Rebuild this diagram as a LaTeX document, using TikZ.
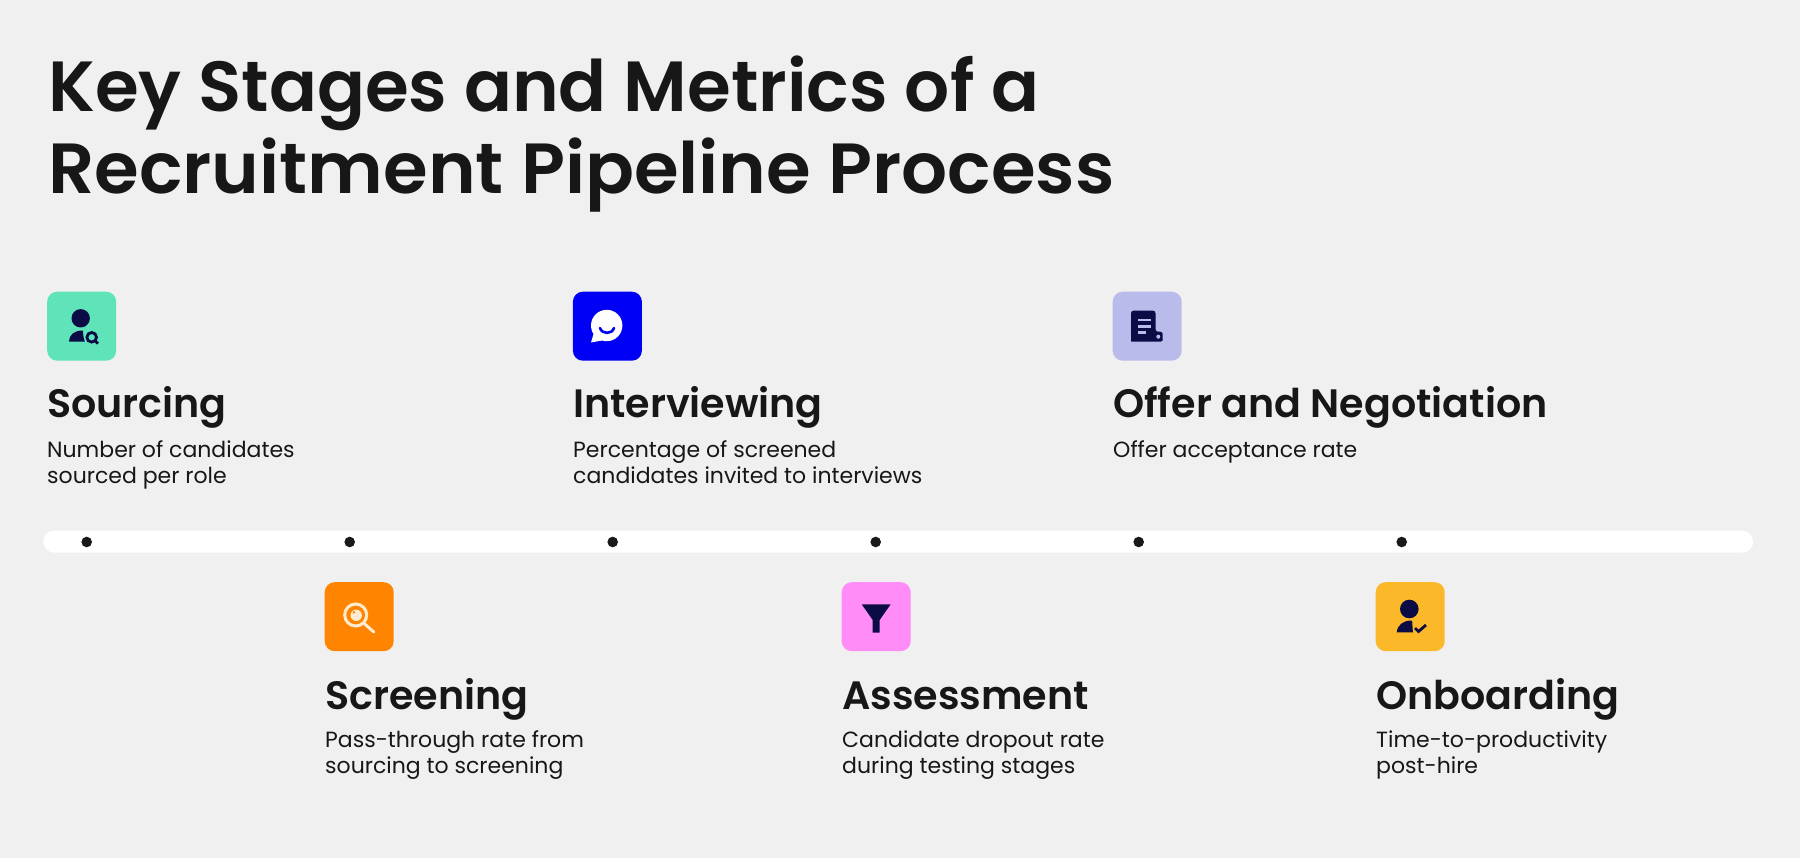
\documentclass[tikz,border=0pt]{standalone}
\usepackage{fontspec}
\setmainfont{Poppins}[BoldFont={Poppins SemiBold}]
\definecolor{bgc}{HTML}{F0F0F0}
\definecolor{ink}{HTML}{171717}
\definecolor{navy}{HTML}{0B0B45}
\definecolor{mint}{HTML}{5FE3B8}
\definecolor{blueb}{HTML}{0000F5}
\definecolor{lav}{HTML}{B9BCEB}
\definecolor{orangeb}{HTML}{FF8500}
\definecolor{cream}{HTML}{FFEBCF}
\definecolor{pinkb}{HTML}{FF8CF7}
\definecolor{yellowb}{HTML}{FBB829}
\tikzset{
  x=1pt,y=-1pt,
  titletext/.style={anchor=base west,inner sep=0pt,text=ink,font=\fontsize{71}{71}\selectfont\bfseries},
  headtext/.style={anchor=base west,inner sep=0pt,text=ink,font=\fontsize{39.6}{39.6}\selectfont\bfseries},
  desctext/.style={anchor=base west,inner sep=0pt,text=ink,font=\fontsize{22}{22}\selectfont},
  iconbox/.style={anchor=north west,inner sep=0pt,minimum size=69pt,rounded corners=10pt},
  dot/.style={circle,fill=black!90,inner sep=0pt,minimum size=10.6pt},
}
\begin{document}
\begin{tikzpicture}
\useasboundingbox (0,0) rectangle (1800,858);
\fill[bgc] (0,0) rectangle (1800,858);
% titles
\node[titletext] (t1) at (48,112) {\scalebox{0.997}[1]{Key Stages and Metrics of a}};
\node[titletext] (t2) at (48,194) {\scalebox{1.018}[1]{Recruitment Pipeline Process}};
% bar
\node[anchor=west,inner sep=0pt,minimum width=1710pt,minimum height=22pt,rounded corners=11pt,fill=white] (bar) at (43,541.7) {};
\foreach \n/\x in {a/86.7,b/349.7,c/612.7,d/875.7,e/1138.7,f/1401.7}
  \node[dot] (dot\n) at (\x,542) {};
% icon boxes
\node[iconbox,fill=mint] (ic1) at (47,291.5) {};
\node[iconbox,fill=blueb] (ic2) at (572.7,291.5) {};
\node[iconbox,fill=lav] (ic3) at (1112.5,291.5) {};
\node[iconbox,fill=orangeb] (ic4) at (324.5,582) {};
\node[iconbox,fill=pinkb] (ic5) at (841.5,582) {};
\node[iconbox,fill=yellowb] (ic6) at (1375.5,582) {};
% icon 1
\fill[navy] (80.7,318.3) circle[radius=9.2];
\fill[navy] (69,341.7) .. controls (69,335) and (74,330.5) .. (82.7,330.5) .. controls (83.5,334) and (83,338) .. (85,341.7) -- cycle;
\draw[navy,line width=2.8pt] (91.7,337.3) circle[radius=4.8];
\draw[navy,line width=2.8pt] (95,340.8) -- (98,343.6);
% icon 2
\fill[white] (606.7,325.5) circle[radius=15.7];
\fill[white] (594,332.5) -- (591,342.5) -- (602,340.5) -- cycle;
\draw[blueb,line width=2.6pt,line cap=round] (600,328) .. controls (602,334.5) and (612,334.5) .. (614,328);
% icon 3
\fill[navy,rounded corners=2.5pt] (1131,310.7) -- (1155.5,310.7) -- (1155.5,331.7) -- (1162.7,331.7) -- (1162.7,338) .. controls (1162.7,340.5) and (1161,341.7) .. (1158,341.7) -- (1134,341.7) .. controls (1132,341.7) and (1131,340.5) .. (1131,338.5) -- cycle;
\fill[lav] (1158.3,336.7) circle[radius=2];
\fill[lav] (1137.5,318.7) rectangle (1150.5,321.3);
\fill[lav] (1137.5,325.4) rectangle (1150.5,328);
\fill[lav] (1137.5,331.4) rectangle (1145.5,334);
% icon 4
\draw[cream,line width=3pt] (355.7,615) circle[radius=11];
\draw[cream,line width=3pt,line cap=round] (364.5,623.8) -- (373.8,632);
\fill[cream] (356.2,615.3) circle[radius=5.7];
\fill[orangeb] (354,612.3) circle[radius=1.4];
% icon 5
\fill[navy] (861.7,604.3) -- (890.7,604.3) -- (879.7,620) -- (879.7,632.7) -- (872.7,632.7) -- (872.7,620) -- cycle;
% icon 6
\fill[navy] (1409.3,609) circle[radius=9.3];
\fill[navy] (1396.7,632.3) .. controls (1397.5,625) and (1403,620.5) .. (1411.5,620.5) .. controls (1413,621) and (1412,627) .. (1413,632.3) -- cycle;
\draw[navy,line width=2.8pt] (1415,628) -- (1418.5,631.5) -- (1426,625);
% headings and descriptions
\node[headtext] (h1) at (47,418) {Sourcing};
\node[desctext] (d1a) at (47,457) {Number of candidates};
\node[desctext] (d1b) at (47,483.5) {sourced per role};
\node[headtext] (h2) at (573,418) {Interviewing};
\node[desctext] (d2a) at (573,457) {Percentage of screened};
\node[desctext] (d2b) at (573,483.5) {candidates invited to interviews};
\node[headtext] (h3) at (1113,418) {Offer and Negotiation};
\node[desctext] (d3a) at (1113,457) {Offer acceptance rate};
\node[headtext] (h4) at (325,709.5) {Screening};
\node[desctext] (d4a) at (325,747) {Pass-through rate from};
\node[desctext] (d4b) at (325,773.5) {sourcing to screening};
\node[headtext] (h5) at (842,709.5) {Assessment};
\node[desctext] (d5a) at (842,747) {Candidate dropout rate};
\node[desctext] (d5b) at (842,773.5) {during testing stages};
\node[headtext] (h6) at (1376,709.5) {Onboarding};
\node[desctext] (d6a) at (1376,747) {Time-to-productivity};
\node[desctext] (d6b) at (1376,773.5) {post-hire};
\end{tikzpicture}
\end{document}
